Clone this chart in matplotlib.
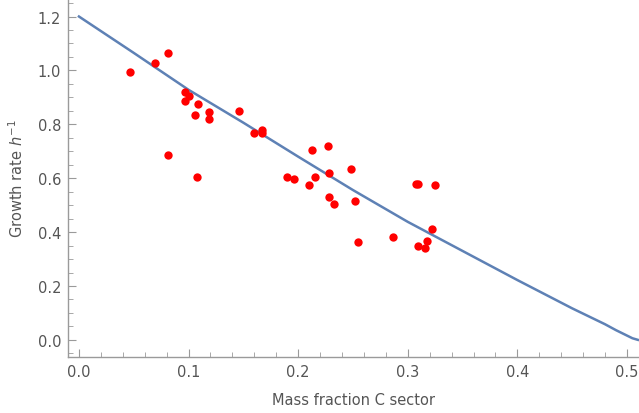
import matplotlib
matplotlib.use("Agg")
import matplotlib.pyplot as plt
from matplotlib.ticker import MultipleLocator

# Measured data (mass fraction of C sector vs growth rate)
mass_fraction = [0.047, 0.069, 0.0815, 0.081, 0.097, 0.100, 0.0966, 0.109,
                 0.106, 0.1185, 0.1185, 0.1077, 0.146, 0.1596, 0.1667, 0.167,
                 0.190, 0.196, 0.2125, 0.2098, 0.215, 0.2276, 0.2283, 0.2286,
                 0.2323, 0.248, 0.2515, 0.2545, 0.2869, 0.3077, 0.3098, 0.325,
                 0.3222, 0.309, 0.3172, 0.3155]
growth_rate = [0.994, 1.027, 1.064, 0.685, 0.921, 0.904, 0.888, 0.877,
               0.836, 0.844, 0.821, 0.606, 0.850, 0.767, 0.778, 0.767,
               0.604, 0.597, 0.703, 0.573, 0.605, 0.720, 0.618, 0.529,
               0.503, 0.633, 0.515, 0.362, 0.381, 0.578, 0.580, 0.575,
               0.413, 0.350, 0.366, 0.340]

# Model curve
model_x = [0.0, 0.05, 0.1, 0.15, 0.2, 0.25, 0.3, 0.35, 0.4, 0.45, 0.48,
           0.49, 0.5, 0.505, 0.51]
model_y = [1.200, 1.065, 0.928, 0.806, 0.680, 0.556, 0.438, 0.330, 0.222,
           0.117, 0.058, 0.036, 0.016, 0.006, 0.0]

axis_grey = "#9a9a9a"
label_grey = "#555555"

fig = plt.figure(figsize=(6.39, 4.14), dpi=100)
ax = fig.add_axes([0.1064, 0.135, 0.8936, 0.865])

ax.plot(model_x, model_y, color="#5E81B5", linewidth=1.8, zorder=2,
        clip_on=False)
ax.plot(mass_fraction, growth_rate, "o", color="red", markersize=6,
        markeredgewidth=0, zorder=3)

ax.set_xlim(-0.010, 0.511)
ax.set_ylim(-0.064, 1.265)

ax.xaxis.set_major_locator(MultipleLocator(0.1))
ax.xaxis.set_minor_locator(MultipleLocator(0.02))
ax.yaxis.set_major_locator(MultipleLocator(0.2))
ax.yaxis.set_minor_locator(MultipleLocator(0.05))

for side in ["top", "right"]:
    ax.spines[side].set_visible(False)
for side in ["left", "bottom"]:
    ax.spines[side].set_color(axis_grey)
    ax.spines[side].set_linewidth(1.0)

ax.tick_params(which="major", direction="in", length=6, width=0.8,
               color=axis_grey, labelcolor=label_grey, labelsize=10.5, pad=5)
ax.tick_params(which="minor", direction="in", length=3.5, width=0.6,
               color=axis_grey)

ax.set_xlabel("Mass fraction C sector", color=label_grey, fontsize=10.5,
              labelpad=9)
ax.set_ylabel("Growth rate $\\mathit{h}^{-1}$", color=label_grey,
              fontsize=10.5, labelpad=8)

fig.savefig("out.png", dpi=100)
